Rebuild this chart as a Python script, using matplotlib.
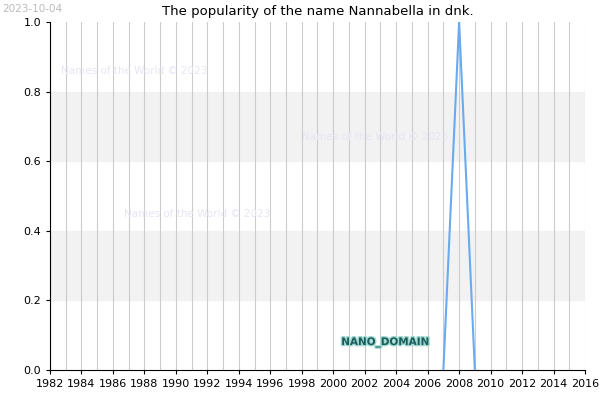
import matplotlib
matplotlib.use("Agg")
import matplotlib.pyplot as plt
import matplotlib.patheffects as pe

years = [2007, 2008, 2009]
popularity = [0.0, 1.0, 0.0]
x_ticks = list(range(1982, 2017, 2))
y_ticks = [0.0, 0.2, 0.4, 0.6, 0.8, 1.0]

fig = plt.figure(figsize=(6, 4), dpi=100)
ax = fig.add_axes([50 / 600, 30 / 400, 535 / 600, 348 / 400])

ax.axhspan(0.2, 0.4, color="#f2f2f2", zorder=0)
ax.axhspan(0.6, 0.8, color="#f2f2f2", zorder=0)
for yr in range(1982, 2017):
    ax.axvline(yr, color="#cccccc", lw=0.8, zorder=1)

ax.plot(years, popularity, color="#6aaaee", lw=1.5, zorder=3)

ax.set_xlim(1982, 2016)
ax.set_ylim(0, 1)
ax.set_xticks(x_ticks)
ax.set_yticks(y_ticks)
ax.set_yticklabels([f"{v:.1f}" for v in y_ticks])
ax.tick_params(labelsize=8, length=3)
for s in ["top", "right"]:
    ax.spines[s].set_visible(False)

ax.set_title("The popularity of the name Nannabella in dnk.", fontsize=9.5, pad=5)
fig.text(0.003, 0.99, "2023-10-04", fontsize=7.5, color="#bbbbbb", va="top")

wm = dict(fontsize=7.5, color="#e6e6f5", zorder=2)
ax.text(1982.7, 0.85, "Names of the World © 2023", **wm)
ax.text(1998.0, 0.66, "Names of the World © 2023", **wm)
ax.text(1986.7, 0.44, "Names of the World © 2023", **wm)

ax.text(2003.3, 0.08, "NANO_DOMAIN", fontsize=7.5, color="#1a5c5c", ha="center",
        va="center", fontweight="bold", zorder=4,
        path_effects=[pe.withStroke(linewidth=2, foreground="#a0d8d0")])

fig.savefig("out.png", dpi=100)
